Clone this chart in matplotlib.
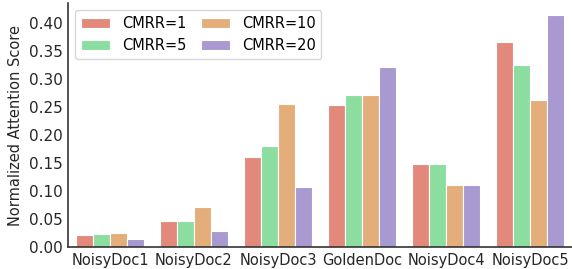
import matplotlib.pyplot as plt
import numpy as np

categories = ['NoisyDoc1', 'NoisyDoc2', 'NoisyDoc3', 'GoldenDoc', 'NoisyDoc4', 'NoisyDoc5']
series_names = ['CMRR=1', 'CMRR=5', 'CMRR=10', 'CMRR=20']
cmrr1 = [0.021, 0.046, 0.160, 0.253, 0.149, 0.367]
cmrr5 = [0.023, 0.046, 0.180, 0.272, 0.148, 0.326]
cmrr10 = [0.025, 0.071, 0.256, 0.271, 0.110, 0.262]
cmrr20 = [0.014, 0.029, 0.107, 0.321, 0.111, 0.414]
colors = ['#e3897c', '#8cdea0', '#e4ae7a', '#a899d0']

fig = plt.figure(figsize=(5.72, 2.69), dpi=100)
ax = fig.add_axes([68/572, 22/269, 504/572, 244/269])

x = np.arange(len(categories))
w = 0.2
for i, vals in enumerate([cmrr1, cmrr5, cmrr10, cmrr20]):
    ax.bar(x + (i - 1.5) * w, vals, w, color=colors[i], edgecolor='white',
           linewidth=0.8, label=series_names[i])

ax.set_xlim(-0.5, 5.5)
ax.set_ylim(0, 0.436)
ax.set_yticks(np.arange(0, 0.41, 0.05))
ax.set_xticks(x)
ax.set_xticklabels(categories, fontsize=10.5, color='#262626')
ax.tick_params(axis='y', labelsize=11, labelcolor='#262626')
ax.tick_params(length=0, pad=4)
ax.set_ylabel('Normalized Attention Score', fontsize=10.5, color='#262626')
for s in ['top', 'right']:
    ax.spines[s].set_visible(False)
for s in ['left', 'bottom']:
    ax.spines[s].set_color('#333333')
    ax.spines[s].set_linewidth(1.2)

ax.legend(ncol=2, loc='upper left', fontsize=10.5, frameon=True,
          edgecolor='#cccccc', handlelength=2, columnspacing=1.0,
          bbox_to_anchor=(0.0, 1.0))

fig.savefig('out.png', dpi=100)
